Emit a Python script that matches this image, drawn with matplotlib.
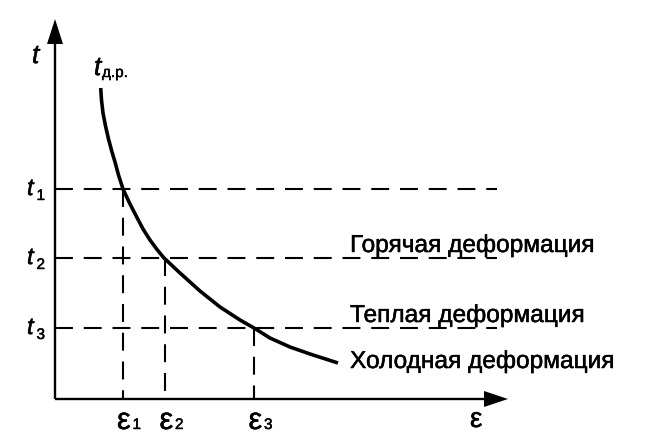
import matplotlib
matplotlib.use("Agg")
import matplotlib.pyplot as plt
from matplotlib.patches import Polygon
import matplotlib.patheffects as pe

plt.rcParams['font.family'] = ['Liberation Sans', 'DejaVu Sans']

# curve (units: strain / temperature, arbitrary)
curve_eps = [45.7, 46.5, 48, 50.5, 53.5, 57, 60, 63.5, 68, 74.5, 81.7, 88, 95, 102, 109,
             125, 135, 145, 155, 165, 175, 185, 199, 215, 235, 255, 283]
curve_t = [311, 299, 286, 273, 260, 247, 237, 224, 210, 196, 182, 170, 159, 149.5, 141,
           126, 117, 108, 100, 92, 85.5, 79, 71, 61, 52, 45, 36]

levels_t = [210, 141, 71]
levels_eps = [67.5, 110, 199]
t_subs = ["1", "2", "3"]
eps_subs = ["1", "2", "3"]
region_labels = ["Горячая деформация", "Теплая деформация", "Холодная деформация"]
region_label_t = [147, 77, 31]

W, H = 654, 436
fig = plt.figure(figsize=(W / 100, H / 100), dpi=100)
ax = fig.add_axes([0, 0, 1, 1])
ax.set_xlim(-55, 599)
ax.set_ylim(-37, 399)
ax.axis('off')

k = 'black'
heavy = [pe.withStroke(linewidth=0.35, foreground=k)]

# axes
ax.plot([0, 0], [0, 360], color=k, lw=1.7, solid_capstyle='butt')
ax.plot([0, 432], [0, 0], color=k, lw=1.7, solid_capstyle='butt')
ax.add_patch(Polygon([[0, 380], [-8, 355], [8, 355]], closed=True, color=k, lw=0))
ax.add_patch(Polygon([[453, 0], [429, 8], [429, -8]], closed=True, color=k, lw=0))

dash = (8.6, 5.2)
for tv in levels_t:
    ax.plot([0, 442], [tv, tv], color=k, lw=1.5, dashes=dash)
for ev, tv in zip(levels_eps, levels_t):
    ax.plot([ev, ev], [tv, 0], color=k, lw=1.5, dashes=dash)

ax.plot(curve_eps, curve_t, color=k, lw=2.6, solid_capstyle='butt', solid_joinstyle='round')

# labels
ax.text(-23, 336, "t", fontsize=19, style='italic', ha='left', va='baseline', path_effects=heavy)
ax.text(39, 324, "t", fontsize=19, style='italic', ha='left', va='baseline', path_effects=heavy)
ax.text(47, 322, "д.р.", fontsize=11, ha='left', va='baseline', path_effects=heavy)
for tv, s in zip(levels_t, t_subs):
    ax.text(-28, tv - 6, "t", fontsize=17, style='italic', ha='left', va='baseline', path_effects=heavy)
    ax.text(-18.5, tv - 11, s, fontsize=11, ha='left', va='baseline', path_effects=heavy)
for ev, s in zip(levels_eps, eps_subs):
    ax.text(ev - 5.5, -30, "ε", fontsize=22, ha='left', va='baseline', path_effects=heavy)
    ax.text(ev + 10, -30, s, fontsize=11, ha='left', va='baseline', path_effects=heavy)
ax.text(415, -28, "ε", fontsize=20, ha='left', va='baseline', path_effects=heavy)

for lab, tv in zip(region_labels, region_label_t):
    ax.text(295, tv, lab, fontsize=17.6, ha='left', va='baseline', path_effects=heavy)

fig.savefig("out.png", dpi=100)
